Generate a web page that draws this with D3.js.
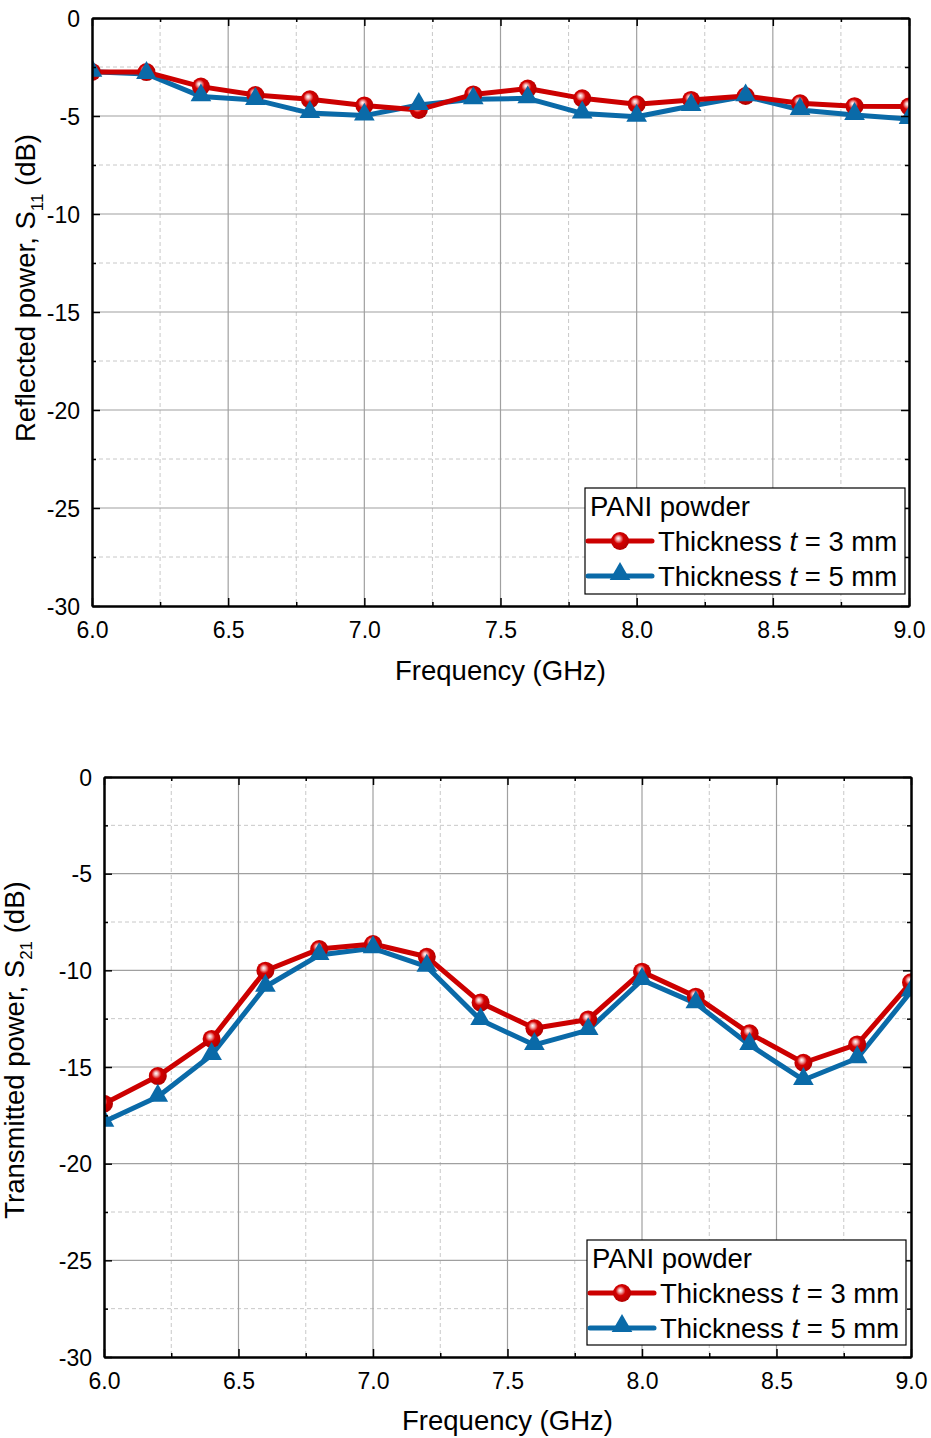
<!DOCTYPE html>
<html><head><meta charset="utf-8">
<script src="https://cdn.jsdelivr.net/npm/d3@7"></script>
<style>body{margin:0;background:#fff}svg{display:block;font-family:"Liberation Sans",Arial,sans-serif}</style>
</head><body>
<svg id="c" width="931" height="1438"></svg>
<script>
const freq = [6.0,6.2,6.4,6.6,6.8,7.0,7.2,7.4,7.6,7.8,8.0,8.2,8.4,8.6,8.8,9.0];
const s11_3mm = [-2.75,-2.76,-3.5,-3.93,-4.15,-4.46,-4.69,-3.9,-3.6,-4.1,-4.4,-4.18,-3.98,-4.35,-4.5,-4.52];
const s11_5mm = [-2.74,-2.86,-4.0,-4.18,-4.85,-4.98,-4.44,-4.15,-4.1,-4.87,-5.04,-4.49,-4.0,-4.69,-4.95,-5.15];
const s21_3mm = [-16.9,-15.47,-13.55,-10.02,-8.9,-8.64,-9.3,-11.67,-13.0,-12.54,-10.07,-11.36,-13.26,-14.78,-13.83,-10.62];
const s21_5mm = [-17.83,-16.54,-14.38,-10.85,-9.21,-8.86,-9.81,-12.57,-13.86,-13.09,-10.5,-11.71,-13.86,-15.67,-14.55,-11.1];
const xTicks = [6.0,6.5,7.0,7.5,8.0,8.5,9.0];
const yTicks = [0,-5,-10,-15,-20,-25,-30];
const legendTitle = "PANI powder";
const seriesNames = ["3 mm","5 mm"];
const xTitle = "Frequency (GHz)";

const svg = d3.select("#c");
const RED = "#cc0000", BLUE = "#0a6aa8";
const defs = svg.append("defs");
const g1 = defs.append("radialGradient").attr("id","ball").attr("cx","0.45").attr("cy","0.42").attr("r","0.6").attr("fx","0.4").attr("fy","0.35");
g1.append("stop").attr("offset","0").attr("stop-color","#ffffff");
g1.append("stop").attr("offset","0.18").attr("stop-color","#f2b0b0");
g1.append("stop").attr("offset","0.45").attr("stop-color","#d40000");
g1.append("stop").attr("offset","1").attr("stop-color","#b00000");

function drawChart(cfg){
  const {id,left,right,top,bottom,d3mm,d5mm,ylabel,sub,yTitleX,yTitleY,xTitleY,legend} = cfg;
  const x = d3.scaleLinear().domain([6,9]).range([left,right]);
  const y = d3.scaleLinear().domain([-30,0]).range([bottom,top]);
  defs.append("clipPath").attr("id",id).append("rect").attr("x",left).attr("y",top).attr("width",right-left).attr("height",bottom-top);
  const g = svg.append("g");
  const xMinor = d3.range(6.25,9,0.5), yMinor = d3.range(-27.5,0,5);
  g.selectAll(null).data(xMinor).join("line").attr("x1",d=>x(d)).attr("x2",d=>x(d)).attr("y1",top).attr("y2",bottom)
    .attr("stroke","#c8c8c8").attr("stroke-width",1).attr("stroke-dasharray","4,3");
  g.selectAll(null).data(yMinor).join("line").attr("y1",d=>y(d)).attr("y2",d=>y(d)).attr("x1",left).attr("x2",right)
    .attr("stroke","#c8c8c8").attr("stroke-width",1).attr("stroke-dasharray","4,3");
  g.selectAll(null).data(xTicks.slice(1,-1)).join("line").attr("x1",d=>x(d)).attr("x2",d=>x(d)).attr("y1",top).attr("y2",bottom)
    .attr("stroke","#a0a0a0").attr("stroke-width",1.2);
  g.selectAll(null).data(yTicks.slice(1,-1)).join("line").attr("y1",d=>y(d)).attr("y2",d=>y(d)).attr("x1",left).attr("x2",right)
    .attr("stroke","#a0a0a0").attr("stroke-width",1.2);
  // data
  const line = d3.line().x((d,i)=>x(freq[i])).y(d=>y(d));
  const pg = g.append("g").attr("clip-path",`url(#${id})`);
  const tri = d3.symbol().type(d3.symbolTriangle).size(185);
  pg.append("path").datum(d5mm).attr("d",line).attr("fill","none").attr("stroke",BLUE).attr("stroke-width",5).attr("stroke-linejoin","round");
  pg.append("path").datum(d3mm).attr("d",line).attr("fill","none").attr("stroke",RED).attr("stroke-width",5).attr("stroke-linejoin","round");
  pg.selectAll(null).data(d3mm).join("circle").attr("cx",(d,i)=>x(freq[i])).attr("cy",d=>y(d)).attr("r",9).attr("fill","url(#ball)");
  pg.selectAll(null).data(d5mm).join("path").attr("d",tri).attr("transform",(d,i)=>`translate(${x(freq[i])},${y(d)-1})`).attr("fill",BLUE);
  // axes
  const axB = d3.axisBottom(x).tickValues(xTicks).tickFormat(d3.format(".1f")).tickSizeInner(-8).tickSizeOuter(0).tickPadding(16);
  const axL = d3.axisLeft(y).tickValues(yTicks).tickFormat(d=>d).tickSizeInner(-8).tickSizeOuter(0).tickPadding(12);
  const gb = g.append("g").attr("transform",`translate(0,${bottom})`).call(axB);
  const gl = g.append("g").attr("transform",`translate(${left},0)`).call(axL);
  g.append("g").attr("transform",`translate(0,${top})`).call(d3.axisTop(x).tickValues(xTicks).tickSizeInner(-8).tickSizeOuter(0).tickFormat(""));
  g.append("g").attr("transform",`translate(${right},0)`).call(d3.axisRight(y).tickValues(yTicks).tickSizeInner(-8).tickSizeOuter(0).tickFormat(""));
  g.append("g").attr("transform",`translate(0,${bottom})`).call(d3.axisBottom(x).tickValues(xMinor).tickSizeInner(-4).tickSizeOuter(0).tickFormat(""));
  g.append("g").attr("transform",`translate(0,${top})`).call(d3.axisTop(x).tickValues(xMinor).tickSizeInner(-4).tickSizeOuter(0).tickFormat(""));
  g.append("g").attr("transform",`translate(${left},0)`).call(d3.axisLeft(y).tickValues(yMinor).tickSizeInner(-4).tickSizeOuter(0).tickFormat(""));
  g.append("g").attr("transform",`translate(${right},0)`).call(d3.axisRight(y).tickValues(yMinor).tickSizeInner(-4).tickSizeOuter(0).tickFormat(""));
  g.selectAll(".domain").attr("stroke","#000").attr("stroke-width",2);
  g.selectAll(".tick line").attr("stroke","#000").attr("stroke-width",1.5);
  g.selectAll(".tick text").attr("font-size",23).attr("font-family","'Liberation Sans',Arial,sans-serif").attr("fill","#000");
  gb.selectAll(".tick text").attr("dy","0.71em");
  gl.selectAll(".tick text").attr("dy","0.35em");
  g.append("text").attr("x",(left+right)/2).attr("y",xTitleY).attr("text-anchor","middle").attr("font-size",27.5).text(xTitle);
  const yt = g.append("text").attr("transform",`translate(${yTitleX},${yTitleY}) rotate(-90)`).attr("text-anchor","middle").attr("font-size",27.5);
  yt.append("tspan").text(ylabel);
  yt.append("tspan").attr("font-size",17).attr("dy",8).text(sub);
  yt.append("tspan").attr("dy",-8).text(" (dB)");
  // legend
  const L = legend;
  const lg = g.append("g");
  lg.append("rect").attr("x",L.x).attr("y",L.y).attr("width",L.w).attr("height",L.h).attr("fill","#fff").attr("stroke","#000").attr("stroke-width",1.2);
  lg.append("text").attr("x",L.x+5).attr("y",L.y+28).attr("font-size",27.5).text(legendTitle);
  [0,1].forEach(k=>{
    const cy = L.y+53+k*35;
    const col = k===0?RED:BLUE;
    lg.append("line").attr("x1",L.x+3).attr("x2",L.x+67).attr("y1",cy).attr("y2",cy).attr("stroke",col).attr("stroke-width",5).attr("stroke-linecap","round");
    if(k===0) lg.append("circle").attr("cx",L.x+35).attr("cy",cy).attr("r",9).attr("fill","url(#ball)");
    else lg.append("path").attr("d",tri).attr("transform",`translate(${L.x+35},${cy-2})`).attr("fill",BLUE);
    const t = lg.append("text").attr("x",L.x+73).attr("y",cy+10).attr("font-size",27.5);
    t.append("tspan").text("Thickness ");
    t.append("tspan").attr("font-style","italic").text("t");
    t.append("tspan").text(" = "+seriesNames[k]);
  });
}

drawChart({id:"clipA",left:92,right:909,top:18,bottom:606,d3mm:s11_3mm,d5mm:s11_5mm,ylabel:"Reflected power, S",sub:"11",
  yTitleX:35,yTitleY:288,xTitleY:680,legend:{x:585,y:488,w:320,h:106}});
drawChart({id:"clipB",left:104,right:911,top:777,bottom:1357,d3mm:s21_3mm,d5mm:s21_5mm,ylabel:"Transmitted power, S",sub:"21",
  yTitleX:24,yTitleY:1050,xTitleY:1430,legend:{x:587,y:1240,w:319,h:105}});
</script>
</body></html>
